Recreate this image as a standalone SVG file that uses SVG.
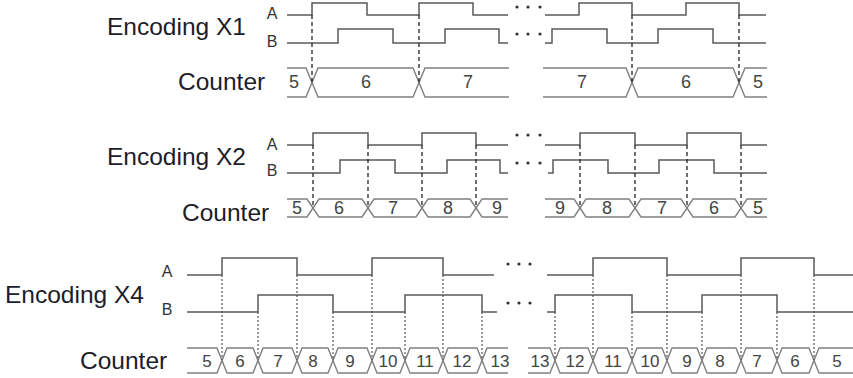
<svg xmlns="http://www.w3.org/2000/svg" width="853" height="378" viewBox="0 0 853 378">
<style>
.bg{fill:#ffffff}
.title{font-family:"Liberation Sans",Arial,sans-serif;font-size:24.5px;fill:#1c1c2a}
.ab{font-family:"Liberation Sans",Arial,sans-serif;font-size:16px;fill:#333;text-anchor:middle}
.dig{font-family:"Liberation Sans",Arial,sans-serif;font-size:18px;fill:#444;text-anchor:middle}
.dig4{font-family:"Liberation Sans",Arial,sans-serif;font-size:17px;fill:#444;text-anchor:middle}
.sig{fill:none;stroke:#5a5a5a;stroke-width:1.5}
.cnt{fill:none;stroke:#808080;stroke-width:1.4}
.dash{fill:none;stroke:#222;stroke-width:1.3;stroke-dasharray:4 3}
.dot4{fill:none;stroke:#555;stroke-width:1.2;stroke-dasharray:2 2}
.ell{fill:#333}
</style>
<rect class="bg" x="0" y="0" width="853" height="378"/>

<g id="x1">
<text class="title" x="107" y="35">Encoding X1</text>
<text class="title" x="178" y="90">Counter</text>
<text class="ab" x="272" y="19">A</text>
<text class="ab" x="272" y="47">B</text>
<path class="sig" d="M287,15 H312 V3 H367 V15 H419 V3 H473 V15 H508"/>
<path class="sig" d="M287,43 H338 V29 H393 V43 H445 V29 H499 V43 H508"/>
<path class="sig" d="M545,15 H579 V3 H632 V15 H686 V3 H739 V15 H766"/>
<path class="sig" d="M545,43 H552 V29 H607 V43 H658 V29 H713 V43 H766"/>
<circle class="ell" cx="517" cy="7" r="1.6"/><circle class="ell" cx="528" cy="7" r="1.6"/><circle class="ell" cx="540" cy="7" r="1.6"/>
<circle class="ell" cx="517" cy="34" r="1.6"/><circle class="ell" cx="528" cy="34" r="1.6"/><circle class="ell" cx="540" cy="34" r="1.6"/>
<polyline class="cnt" points="287,68 306,68 318,97 413,97 425,68 509,68"/>
<polyline class="cnt" points="287,97 306,97 318,68 413,68 425,97 509,97"/>
<polyline class="cnt" points="543,68 626,68 638,97 733,97 745,68 767,68"/>
<polyline class="cnt" points="543,97 626,97 638,68 733,68 745,97 767,97"/>
<text class="dig" x="294" y="88">5</text>
<text class="dig" x="366" y="88">6</text>
<text class="dig" x="468" y="88">7</text>
<text class="dig" x="582" y="88">7</text>
<text class="dig" x="686" y="88">6</text>
<text class="dig" x="758" y="88">5</text>
</g>

<g id="x2">
<text class="title" x="107" y="165">Encoding X2</text>
<text class="title" x="182" y="221">Counter</text>
<text class="ab" x="272" y="150">A</text>
<text class="ab" x="272" y="176">B</text>
<path class="sig" d="M287,145 H313 V133 H368 V145 H422 V133 H476 V145 H508"/>
<path class="sig" d="M287,173 H340 V160 H395 V173 H447 V160 H500 V173 H508"/>
<path class="sig" d="M545,145 H580 V133 H635 V145 H687 V133 H741 V145 H767"/>
<path class="sig" d="M548,173 H553 V160 H608 V173 H659 V160 H714 V173 H767"/>
<circle class="ell" cx="517" cy="135" r="1.6"/><circle class="ell" cx="528" cy="135" r="1.6"/><circle class="ell" cx="540" cy="135" r="1.6"/>
<circle class="ell" cx="517" cy="163" r="1.6"/><circle class="ell" cx="528" cy="163" r="1.6"/><circle class="ell" cx="540" cy="163" r="1.6"/>
<polyline class="cnt" points="287,199 307,199 319,217 362,217 374,199 416,199 428,217 470,217 482,199 508,199"/>
<polyline class="cnt" points="287,217 307,217 319,199 362,199 374,217 416,217 428,199 470,199 482,217 508,217"/>
<polyline class="cnt" points="545,199 574,199 586,217 629,217 641,199 681,199 693,217 735,217 747,199 767,199"/>
<polyline class="cnt" points="545,217 574,217 586,199 629,199 641,217 681,217 693,199 735,199 747,217 767,217"/>
<text class="dig" x="297" y="214">5</text>
<text class="dig" x="339" y="214">6</text>
<text class="dig" x="393" y="214">7</text>
<text class="dig" x="448" y="214">8</text>
<text class="dig" x="497" y="214">9</text>
<text class="dig" x="560" y="214">9</text>
<text class="dig" x="607" y="214">8</text>
<text class="dig" x="662" y="214">7</text>
<text class="dig" x="714" y="214">6</text>
<text class="dig" x="758" y="214">5</text>
</g>

<g id="x4">
<text class="title" x="5" y="303">Encoding X4</text>
<text class="title" x="80" y="369">Counter</text>
<text class="ab" x="167" y="277">A</text>
<text class="ab" x="167" y="315">B</text>
<path class="sig" d="M187,275 H222 V258 H297 V275 H372 V258 H443 V275 H494"/>
<path class="sig" d="M187,312 H258 V295 H333 V312 H405 V295 H482 V312 H497"/>
<path class="sig" d="M547,275 H593 V258 H667 V275 H741 V258 H814 V275 H853"/>
<path class="sig" d="M547,312 H555 V295 H632 V312 H702 V295 H777 V312 H853"/>
<circle class="ell" cx="508" cy="264" r="1.6"/><circle class="ell" cx="519" cy="264" r="1.6"/><circle class="ell" cx="530" cy="264" r="1.6"/>
<circle class="ell" cx="508" cy="303" r="1.6"/><circle class="ell" cx="519" cy="303" r="1.6"/><circle class="ell" cx="530" cy="303" r="1.6"/>
<polyline class="cnt" points="187,348 217,348 227,373 253,373 263,348 292,348 302,373 328,373 338,348 367,348 377,373 400,373 410,348 438,348 448,373 477,373 487,348 508,348"/>
<polyline class="cnt" points="187,373 217,373 227,348 253,348 263,373 292,373 302,348 328,348 338,373 367,373 377,348 400,348 410,373 438,373 448,348 477,348 487,373 508,373"/>
<polyline class="cnt" points="528,348 550,348 560,373 588,373 598,348 627,348 637,373 662,373 672,348 697,348 707,373 736,373 746,348 772,348 782,373 809,373 819,348 853,348"/>
<polyline class="cnt" points="528,373 550,373 560,348 588,348 598,373 627,373 637,348 662,348 672,373 697,373 707,348 736,348 746,373 772,373 782,348 809,348 819,373 853,373"/>
<text class="dig4" x="207" y="367">5</text>
<text class="dig4" x="240" y="367">6</text>
<text class="dig4" x="278" y="367">7</text>
<text class="dig4" x="313" y="367">8</text>
<text class="dig4" x="350" y="367">9</text>
<text class="dig4" x="388" y="367">10</text>
<text class="dig4" x="425" y="367">11</text>
<text class="dig4" x="462" y="367">12</text>
<text class="dig4" x="500" y="367">13</text>
<text class="dig4" x="540" y="367">13</text>
<text class="dig4" x="575" y="367">12</text>
<text class="dig4" x="613" y="367">11</text>
<text class="dig4" x="650" y="367">10</text>
<text class="dig4" x="687" y="367">9</text>
<text class="dig4" x="720" y="367">8</text>
<text class="dig4" x="757" y="367">7</text>
<text class="dig4" x="795" y="367">6</text>
<text class="dig4" x="837" y="367">5</text>
</g>

<g id="connectors">
<path class="dash" d="M312,15 V82 M419,15 V82 M632,15 V82 M739,15 V82"/>
<path class="dash" d="M313,145 V208 M368,145 V208 M422,145 V208 M476,145 V208 M580,145 V208 M635,145 V208 M687,145 V208 M741,145 V208"/>
<path class="dot4" d="M222,275 V360 M258,312 V360 M297,275 V360 M333,312 V360 M372,275 V360 M405,312 V360 M443,275 V360 M482,312 V360 M555,312 V360 M593,275 V360 M632,312 V360 M667,275 V360 M702,312 V360 M741,275 V360 M777,312 V360 M814,275 V360"/>
</g>
</svg>
